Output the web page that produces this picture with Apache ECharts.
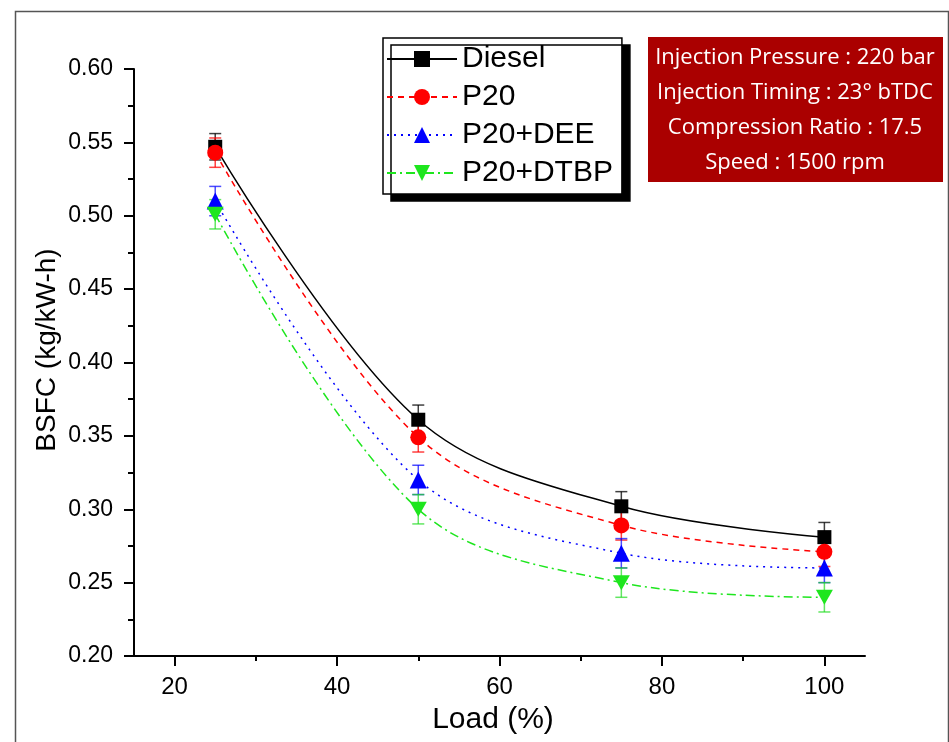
<!DOCTYPE html>
<html><head><meta charset="utf-8">
<script src="https://cdn.jsdelivr.net/npm/echarts@6/dist/echarts.min.js"></script>
<style>html,body{margin:0;padding:0;background:#fff}#c{width:949px;height:742px}</style>
</head><body><div id="c"></div>
<script>
const loads = [25, 50, 75, 100];
const diesel = [0.547, 0.361, 0.302, 0.281];
const p20 = [0.543, 0.349, 0.289, 0.271];
const p20dee = [0.510, 0.320, 0.270, 0.260];
const p20dtbp = [0.501, 0.300, 0.250, 0.240];
const errDiesel = [0.009, 0.010, 0.010, 0.010];
const errP20 = [0.010, 0.010, 0.010, 0.010];
const errDee = [0.010, 0.010, 0.010, 0.010];
const errDtbp = [0.010, 0.010, 0.010, 0.010];
const xMajorTicks = [20, 40, 60, 80, 100];
const xMinorTicks = [30, 50, 70, 90];
const xTitle = 'Load (%)';
const yTitle = 'BSFC (kg/kW-h)';
const infoLines = ['Injection Pressure : 220 bar', 'Injection Timing : 23° bTDC', 'Compression Ratio : 17.5', 'Speed : 1500 rpm'];

const seriesDefs = [
  {name: 'Diesel', vals: diesel, err: errDiesel, color: '#000000', errColor: 'rgba(0,0,0,0.75)', type: 'solid', symbol: 'rect', size: 14},
  {name: 'P20', vals: p20, err: errP20, color: '#ff0000', errColor: 'rgba(255,0,0,0.75)', type: [6, 5], symbol: 'circle', size: 16},
  {name: 'P20+DEE', vals: p20dee, err: errDee, color: '#0000ff', errColor: 'rgba(0,0,255,0.7)', type: [2, 5], symbol: 'triangle', size: 17},
  {name: 'P20+DTBP', vals: p20dtbp, err: errDtbp, color: '#1ee61e', errColor: 'rgba(30,220,30,0.7)', type: [9, 4, 2, 4], symbol: 'path://M0,0 L10,0 L5,9 Z', size: 17}
];

const series = [];
seriesDefs.forEach(d => {
  series.push({
    type: 'custom', name: d.name + '_err', xAxisIndex: 0, yAxisIndex: 0, z: 3,
    data: loads.map((x, i) => [x, d.vals[i] - d.err[i], d.vals[i] + d.err[i]]),
    renderItem: function (params, api) {
      const lo = api.coord([api.value(0), api.value(1)]);
      const hi = api.coord([api.value(0), api.value(2)]);
      const hw = 6;
      const st = {stroke: d.errColor, lineWidth: 1.5};
      return {type: 'group', children: [
        {type: 'line', shape: {x1: lo[0], y1: lo[1], x2: hi[0], y2: hi[1]}, style: st},
        {type: 'line', shape: {x1: lo[0] - hw, y1: lo[1], x2: lo[0] + hw, y2: lo[1]}, style: st},
        {type: 'line', shape: {x1: hi[0] - hw, y1: hi[1], x2: hi[0] + hw, y2: hi[1]}, style: st}
      ]};
    },
    silent: true
  });
  series.push({
    type: 'line', name: d.name, xAxisIndex: 0, yAxisIndex: 0, z: 4,
    data: loads.map((x, i) => [x, d.vals[i]]),
    smooth: 0.35,
    symbol: d.symbol, symbolSize: d.symbol.startsWith('path') ? [17, 15] : d.size,
    showAllSymbol: true,
    lineStyle: {color: d.color, width: 1.5, type: d.type},
    itemStyle: {color: d.color, borderWidth: 0},
    emphasis: {disabled: true}
  });
});

const chart = echarts.init(document.getElementById('c'), null, {renderer: 'canvas'});
chart.setOption({
  animation: false,
  backgroundColor: '#ffffff',
  grid: {left: 134, right: 84, top: 69, bottom: 86, containLabel: false},
  xAxis: [{
    type: 'value', min: 15, max: 105,
    axisLine: {show: true, onZero: false, lineStyle: {color: '#000', width: 2}},
    axisTick: {show: true, length: 10, customValues: xMajorTicks, lineStyle: {color: '#000', width: 2}},
    axisLabel: {customValues: xMajorTicks, fontFamily: 'Liberation Sans', fontSize: 24, color: '#000', margin: 19},
    splitLine: {show: false}
  }, {
    type: 'value', min: 15, max: 105, position: 'bottom',
    axisLine: {show: false},
    axisTick: {show: true, length: 5, customValues: xMinorTicks, lineStyle: {color: '#000', width: 2}},
    axisLabel: {show: false},
    splitLine: {show: false}
  }],
  yAxis: {
    type: 'value', min: 0.2, max: 0.6, interval: 0.05,
    axisLine: {show: true, lineStyle: {color: '#000', width: 2}},
    axisTick: {show: true, length: 10, lineStyle: {color: '#000', width: 2}},
    minorTick: {show: true, splitNumber: 2, length: 6, lineStyle: {color: '#000', width: 2}},
    axisLabel: {fontFamily: 'Liberation Sans', fontSize: 23, color: '#000', margin: 21, formatter: v => v.toFixed(2)},
    splitLine: {show: false}
  },
  legend: {
    data: seriesDefs.map(d => d.name),
    orient: 'vertical', left: 383, top: 38,
    itemWidth: 70, itemHeight: 20, itemGap: 8,
    padding: [6, 9, 6, 3],
    backgroundColor: '#ffffff', borderColor: '#000', borderWidth: 1.5, borderRadius: 0,
    shadowColor: '#000', shadowBlur: 0, shadowOffsetX: 8, shadowOffsetY: 7,
    textStyle: {fontFamily: 'Liberation Sans', fontSize: 30, color: '#000'},
    selectedMode: false
  },
  graphic: [
    {type: 'rect', left: 13, top: 9, shape: {width: 933, height: 760}, style: {fill: 'none', stroke: '#555', lineWidth: 1.5}, silent: true},
    {type: 'text', x: 493, y: 720, style: {text: xTitle, fill: '#000', font: '30px "Liberation Sans"', align: 'center', verticalAlign: 'middle'}},
    {type: 'text', x: 47, y: 350, rotation: Math.PI / 2, style: {text: yTitle, fill: '#000', font: '28px "Liberation Sans"', align: 'center', verticalAlign: 'middle'}},
    {type: 'group', left: 648, top: 37, children: [
      {type: 'rect', shape: {x: 0, y: 0, width: 295, height: 145}, style: {fill: '#aa0000'}},
      ...infoLines.map((t, i) => ({type: 'text', x: 147, y: 21 + i * 35, style: {text: t, fill: '#fff', font: '22px "Open Sans"', align: 'center', verticalAlign: 'middle'}}))
    ]}
  ],
  series: series
});
</script></body></html>
